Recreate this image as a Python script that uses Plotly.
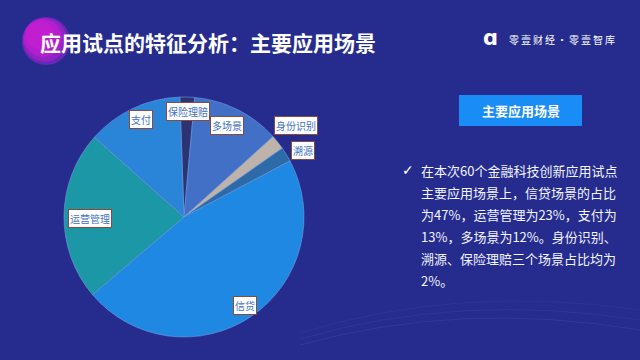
import plotly.graph_objects as go

W, H = 640, 360

# ---- data ----
scenes = ['保险理赔', '多场景', '身份识别', '溯源', '信贷', '运营管理', '支付']
shares = [2, 12, 2, 2, 47, 23, 13]
slice_colors = ['#2B3372', '#4170C6', '#BDB3AA', '#2C6BA8', '#1E88E2', '#1C97A6', '#2A84D8']

title_text = '应用试点的特征分析：主要应用场景'
brand_text = '零壹财经·零壹智库'
panel_title = '主要应用场景'
body_lines = [
    '在本次60个金融科技创新应用试点',
    '主要应用场景上，信贷场景的占比',
    '为47%，运营管理为23%，支付为',
    '13%，多场景为12%。身份识别、',
    '溯源、保险理赔三个场景占比均为',
    '2%。',
]
# label box centres (pixels)
label_pos = {
    '保险理赔': (188, 111),
    '多场景': (227, 125),
    '身份识别': (296, 125),
    '溯源': (303, 150),
    '信贷': (245, 305),
    '运营管理': (90, 219),
    '支付': (141, 120),
}

BG = '#262C8D'
FONT = 'Noto Sans CJK SC'


def px(x):
    return x / W


def py(y):
    return 1 - y / H


fig = go.Figure()

# pie (centre ~ (184,217), radius 120)
cx, cy, r = 184, 217, 120
fig.add_trace(go.Pie(
    labels=scenes,
    values=shares,
    sort=False,
    direction='clockwise',
    rotation=-2,
    marker=dict(colors=slice_colors, line=dict(color='rgba(120,160,225,0.55)', width=1)),
    textinfo='none',
    hoverinfo='label+percent',
    showlegend=False,
    domain=dict(x=[px(cx - r), px(cx + r)], y=[py(cy + r), py(cy - r)]),
))

shapes = []
# purple circle behind title
for rr, col in [(24, 'rgba(110,40,185,0.9)'), (22, 'rgba(150,34,200,0.9)'), (19, 'rgba(185,30,205,0.85)'), (14, 'rgba(200,30,210,0.7)')]:
    ox, oy = 46 - (24 - rr) * 0.6, 41 - (24 - rr) * 0.6
    shapes.append(dict(type='circle', xref='paper', yref='paper',
                       x0=px(ox - rr), x1=px(ox + rr), y0=py(oy + rr), y1=py(oy - rr),
                       fillcolor=col, line=dict(width=0), layer='below'))
# panel button
shapes.append(dict(type='rect', xref='paper', yref='paper',
                   x0=px(459), x1=px(582), y0=py(126), y1=py(95),
                   fillcolor='#1A8CF5', line=dict(width=0)))
# faint waves bottom right
for i, op in enumerate([0.10, 0.08, 0.06]):
    shapes.append(dict(type='path', xref='paper', yref='paper',
                       path=f'M {px(300)},{py(345 - i*6)} Q {px(460)},{py(300 - i*8)} {px(640)},{py(330 - i*10)}',
                       line=dict(color=f'rgba(140,170,255,{op})', width=1)))

annotations = []
annotations.append(dict(text=f'<b>{title_text}</b>', x=px(38), y=py(42), xref='paper', yref='paper',
                        xanchor='left', yanchor='middle', showarrow=False,
                        font=dict(family=FONT, size=21, color='white')))
annotations.append(dict(text='<b>ɑ</b>', x=px(490), y=py(38), xref='paper', yref='paper',
                        xanchor='center', yanchor='middle', showarrow=False,
                        font=dict(family='DejaVu Sans', size=21, color='white')))
annotations.append(dict(text='\u2009'.join(brand_text), x=px(507), y=py(39), xref='paper', yref='paper',
                        xanchor='left', yanchor='middle', showarrow=False,
                        font=dict(family=FONT, size=10, color='white')))
annotations.append(dict(text=f'<b>{panel_title}</b>', x=px(520.5), y=py(110.5), xref='paper', yref='paper',
                        xanchor='center', yanchor='middle', showarrow=False,
                        font=dict(family=FONT, size=13, color='white')))
line_y = [170, 192, 214, 236, 258, 280]
annotations.append(dict(text='✓', x=px(408), y=py(line_y[0]), xref='paper', yref='paper',
                        xanchor='center', yanchor='middle', showarrow=False,
                        font=dict(family='DejaVu Sans', size=14, color='white')))
for t, yy in zip(body_lines, line_y):
    annotations.append(dict(text=t, x=px(419), y=py(yy), xref='paper', yref='paper',
                            xanchor='left', yanchor='middle', showarrow=False,
                            font=dict(family=FONT, size=13, color='#F2F4FF')))
for name in scenes:
    lx, ly = label_pos[name]
    annotations.append(dict(text=name, x=px(lx), y=py(ly), xref='paper', yref='paper',
                            xanchor='center', yanchor='middle', showarrow=False,
                            bgcolor='white', bordercolor='#8A4A3C', borderwidth=1, borderpad=1,
                            font=dict(family=FONT, size=10, color='#4472C4')))

fig.update_layout(
    width=W, height=H,
    margin=dict(l=0, r=0, t=0, b=0),
    paper_bgcolor=BG, plot_bgcolor=BG,
    shapes=shapes, annotations=annotations,
)

fig.write_html('out.html', config={'displayModeBar': False})
